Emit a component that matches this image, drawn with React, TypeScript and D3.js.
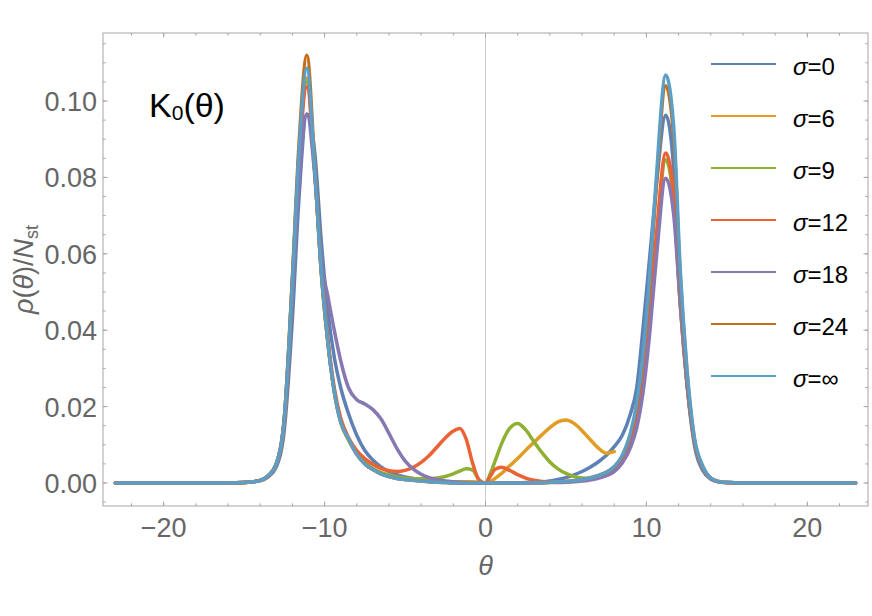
import * as d3 from 'd3';

// theta sample points (shared by every series)
const theta = [
    -23, -16, -15, -14.5, -14,
    -13.5, -13, -12.5, -12, -11.6,
    -11.1, -10.6, -10.2, -9.8, -9.4,
    -9, -8.5, -8, -7.5, -7,
    -6.5, -6, -5.5, -5, -4.5,
    -4, -3.5, -3, -2.5, -2,
    -1.6, -1.2, -0.8, -0.4, 0,
    0.3, 0.6, 1, 1.5, 2,
    2.5, 3, 3.5, 4, 4.5,
    5, 5.5, 6, 6.5, 7,
    7.5, 8, 8.5, 9, 9.4,
    9.8, 10.2, 10.6, 11.2, 11.7,
    12.1, 12.5, 13, 13.5, 14,
    14.5, 15, 16, 23,
];

// rho(theta)/N_st
const sigma0 = [
    0, 0, 0.0001, 0.0003, 0.0006,
    0.0016, 0.0042, 0.014, 0.043, 0.074,
    0.0966, 0.086, 0.063, 0.045, 0.033,
    0.025, 0.018, 0.0125, 0.0085, 0.006,
    0.0042, 0.003, 0.0022, 0.0016, 0.0012,
    0.0008, 0.0005, 0.0003, 0.0002, 0.0001,
    0, 0, 0, 0, 0,
    0, 0, 0, 0, 0,
    0.0001, 0.0001, 0.0003, 0.0005, 0.0009,
    0.0014, 0.0021, 0.003, 0.0041, 0.0055,
    0.0072, 0.0095, 0.0125, 0.018, 0.025,
    0.041, 0.059, 0.077, 0.0963, 0.082,
    0.05, 0.027, 0.0095, 0.0033, 0.001,
    0.0003, 0.0001, 0, 0,
];
const sigma6 = [
    0, 0, 0.0001, 0.0003, 0.0007,
    0.0019, 0.005, 0.017, 0.053, 0.085,
    0.106, 0.081, 0.055, 0.037, 0.024,
    0.016, 0.0112, 0.0075, 0.005, 0.0035,
    0.0024, 0.0017, 0.0012, 0.0009, 0.0007,
    0.0005, 0.0004, 0.0003, 0.0003, 0.0003,
    0.0003, 0.0003, 0.0003, 0.0002, 0,
    0.0004, 0.0012, 0.0025, 0.0045, 0.0064,
    0.0086, 0.0106, 0.0126, 0.0145, 0.016,
    0.0165, 0.0156, 0.0137, 0.0114, 0.0092,
    0.0078, 0.0082, null, null, null,
    null, null, null, null, null,
    null, null, null, null, null,
    null, null, null, null,
];
const sigma9 = [
    0, 0, 0.0001, 0.0003, 0.0007,
    0.0019, 0.005, 0.017, 0.053, 0.085,
    0.105, 0.081, 0.055, 0.037, 0.024,
    0.016, 0.0112, 0.0077, 0.0054, 0.0038,
    0.0028, 0.0021, 0.0016, 0.0013, 0.0011,
    0.0011, 0.0011, 0.0013, 0.0017, 0.0024,
    0.0031, 0.0037, 0.0034, 0.0008, 0,
    0.0025, 0.0058, 0.0103, 0.0143, 0.0156,
    0.0139, 0.0109, 0.008, 0.0055, 0.0037,
    0.0025, 0.0017, 0.0013, 0.0012, 0.0014,
    0.002, 0.0032, 0.0057, 0.0103, 0.016,
    0.026, 0.042, 0.062, 0.0846, 0.073,
    0.047, 0.027, 0.0105, 0.004, 0.0012,
    0.0003, 0.0001, 0, 0,
];
const sigma12 = [
    0, 0, 0.0001, 0.0003, 0.0007,
    0.0018, 0.0048, 0.016, 0.051, 0.083,
    0.1037, 0.081, 0.056, 0.038, 0.025,
    0.017, 0.0118, 0.0085, 0.0064, 0.0049,
    0.0038, 0.0032, 0.003, 0.0033, 0.0041,
    0.0054, 0.0072, 0.0095, 0.0118, 0.0136,
    0.0143, 0.0115, 0.0052, 0.0008, 0,
    0.0018, 0.0036, 0.0041, 0.0033, 0.0022,
    0.0013, 0.0007, 0.0004, 0.0003, 0.0003,
    0.0004, 0.0006, 0.0009, 0.0013, 0.0019,
    0.0027, 0.004, 0.0065, 0.011, 0.017,
    0.028, 0.044, 0.064, 0.0864, 0.075,
    0.047, 0.027, 0.0105, 0.004, 0.0012,
    0.0003, 0.0001, 0, 0,
];
const sigma18 = [
    0, 0, 0.0001, 0.0003, 0.0007,
    0.0019, 0.005, 0.017, 0.05, 0.078,
    0.0965, 0.08, 0.058, 0.049, 0.04,
    0.032, 0.0248, 0.0218, 0.0207, 0.0192,
    0.0168, 0.013, 0.009, 0.0058, 0.0037,
    0.0023, 0.0014, 0.0009, 0.0005, 0.0003,
    0.0002, 0.0001, 0, 0, 0,
    0, 0, 0, 0, 0,
    0, 0, 0, 0.0001, 0.0001,
    0.0002, 0.0003, 0.0005, 0.0008, 0.0012,
    0.0019, 0.003, 0.0052, 0.0092, 0.0145,
    0.024, 0.039, 0.058, 0.0798, 0.07,
    0.047, 0.027, 0.0105, 0.004, 0.0012,
    0.0003, 0.0001, 0, 0,
];
const sigma24 = [
    0, 0, 0.0001, 0.0003, 0.0007,
    0.0019, 0.005, 0.017, 0.054, 0.088,
    0.112, 0.082, 0.055, 0.037, 0.024,
    0.016, 0.0115, 0.0075, 0.005, 0.0035,
    0.0024, 0.0017, 0.0012, 0.0009, 0.0007,
    0.0005, 0.0003, 0.0002, 0.0001, 0,
    0, 0, 0, 0, 0,
    0, 0, 0, 0, 0,
    0, 0.0001, 0.0001, 0.0002, 0.0003,
    0.0004, 0.0006, 0.0009, 0.0013, 0.0019,
    0.0028, 0.0042, 0.007, 0.0125, 0.02,
    0.033, 0.052, 0.077, 0.104, 0.09,
    0.054, 0.03, 0.011, 0.0043, 0.0013,
    0.0004, 0.0001, 0, 0,
];
const sigmaInf = [
    0, 0, 0.0001, 0.0003, 0.0007,
    0.0019, 0.005, 0.017, 0.053, 0.086,
    0.1086, 0.081, 0.055, 0.037, 0.024,
    0.016, 0.0115, 0.0075, 0.005, 0.0035,
    0.0024, 0.0017, 0.0012, 0.0009, 0.0007,
    0.0005, 0.0003, 0.0002, 0.0001, 0,
    0, 0, 0, 0, 0,
    0, 0, 0, 0, 0,
    0, 0.0001, 0.0001, 0.0002, 0.0003,
    0.0004, 0.0006, 0.0009, 0.0013, 0.0019,
    0.0028, 0.0043, 0.0072, 0.013, 0.021,
    0.034, 0.054, 0.079, 0.1068, 0.093,
    0.056, 0.031, 0.0115, 0.0045, 0.0013,
    0.0004, 0.0001, 0, 0,
];

const sigmaLabels = ['0', '6', '9', '12', '18', '24', '∞'];
const seriesValues = [sigma0, sigma6, sigma9, sigma12, sigma18, sigma24, sigmaInf];
const colors = ['#5E81B5', '#E19C24', '#8FB032', '#EB6235', '#8778B3', '#C56E1A', '#5D9EC7'];

const FONT = '"Liberation Sans", Arial, sans-serif';

export default function App() {
    const width = 872;
    const height = 616;

    const margins = {
        top: 33,
        bottom: 110,
        right: 4,
        left: 103,
    };

    const xScale = d3
        .scaleLinear()
        .domain([-23.77, 23.77])
        .range([margins.left, width - margins.right]);

    const yScale = d3
        .scaleLinear()
        .domain([-0.00602, 0.1178])
        .range([height - margins.bottom, margins.top]);

    const line = d3
        .line<[number, number | null]>()
        .defined((d) => d[1] != null)
        .x((d) => xScale(d[0]))
        .y((d) => yScale(d[1] as number))
        .curve(d3.curveMonotoneX);

    const x0 = margins.left;
    const x1 = width - margins.right;
    const y0 = height - margins.bottom;
    const y1 = margins.top;

    const xMajor = xScale.ticks(5);
    const xMinor = xScale.ticks(25);
    const yMajor = yScale.ticks(6);
    const yMinor = yScale.ticks(25);
    const xFmt = xScale.tickFormat(5);
    const yFmt = d3.format('.2f');

    const frame = '#a6a6a6';
    const labelColor = '#666';

    return (
        <svg
            width={width}
            height={height}
            viewBox={`0 0 ${width} ${height}`}
            style={{ position: 'absolute', left: 0, top: 0, background: '#fff' }}
            fontFamily={FONT}
        >
            {/* zero line */}
            <line x1={xScale(0)} x2={xScale(0)} y1={y0} y2={y1} stroke='#cccccc' strokeWidth={1} />

            {/* curves */}
            {seriesValues.map((vals, i) => (
                <path
                    key={i}
                    d={line(theta.map((t, j) => [t, vals[j]] as [number, number | null])) ?? ''}
                    fill='none'
                    stroke={colors[i]}
                    strokeWidth={3.5}
                    strokeLinejoin='round'
                    strokeLinecap='round'
                />
            ))}

            {/* frame */}
            <rect x={x0} y={y1} width={x1 - x0} height={y0 - y1} fill='none' stroke={frame} strokeWidth={1} />

            {/* x ticks, bottom and top */}
            {xMinor.map((t) => (
                <g key={'xm' + t}>
                    <line x1={xScale(t)} x2={xScale(t)} y1={y0} y2={y0 - 2.7} stroke={frame} />
                    <line x1={xScale(t)} x2={xScale(t)} y1={y1} y2={y1 + 2.7} stroke={frame} />
                </g>
            ))}
            {xMajor.map((t) => (
                <g key={'xM' + t}>
                    <line x1={xScale(t)} x2={xScale(t)} y1={y0} y2={y0 - 4.5} stroke={frame} />
                    <line x1={xScale(t)} x2={xScale(t)} y1={y1} y2={y1 + 4.5} stroke={frame} />
                    <text x={xScale(t)} y={537} textAnchor='middle' fontSize={27} fill={labelColor}>
                        {xFmt(t)}
                    </text>
                </g>
            ))}

            {/* y ticks, left and right */}
            {yMinor.map((t) => (
                <g key={'ym' + t}>
                    <line x1={x0} x2={x0 + 2.7} y1={yScale(t)} y2={yScale(t)} stroke={frame} />
                    <line x1={x1} x2={x1 - 2.7} y1={yScale(t)} y2={yScale(t)} stroke={frame} />
                </g>
            ))}
            {yMajor.map((t) => (
                <g key={'yM' + t}>
                    <line x1={x0} x2={x0 + 4.5} y1={yScale(t)} y2={yScale(t)} stroke={frame} />
                    <line x1={x1} x2={x1 - 4.5} y1={yScale(t)} y2={yScale(t)} stroke={frame} />
                    <text x={x0 - 6} y={yScale(t) + 10} textAnchor='end' fontSize={27} fill={labelColor}>
                        {yFmt(t)}
                    </text>
                </g>
            ))}

            {/* axis labels */}
            <text x={xScale(0)} y={575} textAnchor='middle' fontSize={27} fill={labelColor} fontStyle='italic'>
                θ
            </text>
            <text
                transform={`translate(33, ${(y0 + y1) / 2}) rotate(-90)`}
                textAnchor='middle'
                fontSize={27}
                fill={labelColor}
            >
                <tspan fontStyle='italic'>ρ</tspan>(<tspan fontStyle='italic'>θ</tspan>)/
                <tspan fontStyle='italic'>N</tspan>
                <tspan fontSize={18} dy={5}>
                    st
                </tspan>
            </text>

            {/* annotation */}
            <text x={149} y={117} fontSize={34} fill='#000'>
                K
                <tspan fontSize={21} dy={3}>
                    0
                </tspan>
                <tspan dy={-3}>(θ)</tspan>
            </text>

            {/* legend */}
            {sigmaLabels.map((s, i) => {
                const ly = 64 + i * 52;
                return (
                    <g key={'lg' + s}>
                        <line x1={711} x2={776} y1={ly} y2={ly} stroke={colors[i]} strokeWidth={2} />
                        <text x={793} y={ly + 11} fontSize={24} fill='#000'>
                            <tspan fontStyle='italic'>σ</tspan>={s}
                        </text>
                    </g>
                );
            })}
        </svg>
    );
}
